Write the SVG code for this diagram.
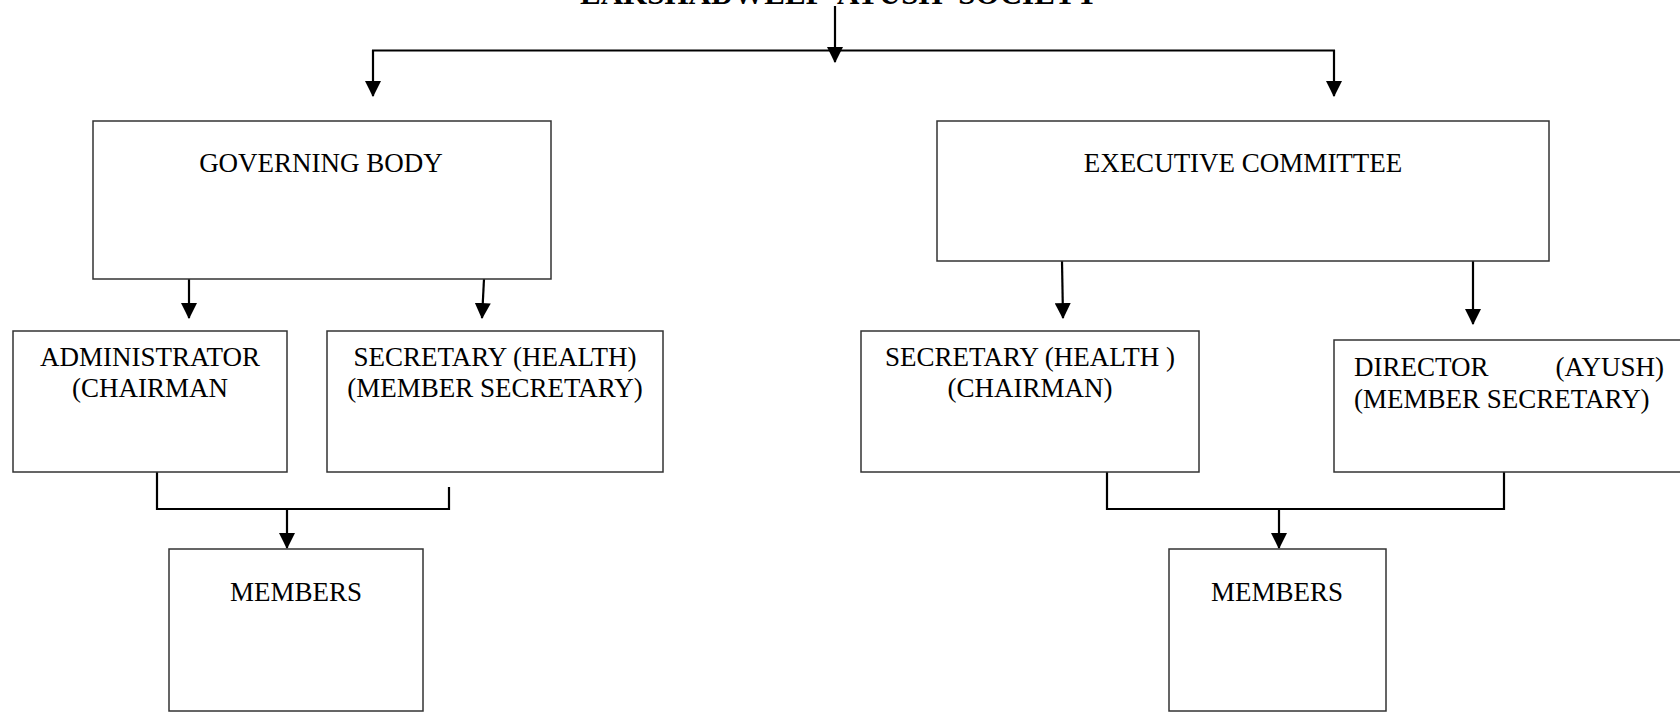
<svg xmlns="http://www.w3.org/2000/svg" width="1680" height="714" viewBox="0 0 1680 714">
<defs>
<style>
.box{fill:#fff;stroke:#333;stroke-width:1.5}
.t{font-family:"Liberation Serif","Times New Roman",serif;font-size:27px;fill:#000;text-anchor:middle}
.title{font-family:"Liberation Serif","Times New Roman",serif;font-size:31px;font-weight:bold;fill:#000}
.c{fill:none;stroke:#000;stroke-width:2.2}
</style>
<marker id="ah" markerUnits="userSpaceOnUse" markerWidth="16" markerHeight="16" viewBox="0 0 15 15" refX="14" refY="7.5" orient="auto">
<path d="M0,0 L15,7.5 L0,15 z" fill="#000"/>
</marker>
</defs>
<rect width="1680" height="714" fill="#fff"/>
<text class="title" x="580" y="4" word-spacing="8">LAKSHADWEEP AYUSH SOCIETY</text>
<g id="connectors">
<line class="c" x1="835" y1="6" x2="835" y2="62" marker-end="url(#ah)"/>
<line class="c" x1="372" y1="50.5" x2="1335" y2="50.5"/>
<line class="c" x1="373" y1="50" x2="373" y2="96" marker-end="url(#ah)"/>
<line class="c" x1="1334" y1="50" x2="1334" y2="96" marker-end="url(#ah)"/>
<line class="c" x1="189" y1="279" x2="189" y2="318" marker-end="url(#ah)"/>
<line class="c" x1="484" y1="279" x2="482" y2="318" marker-end="url(#ah)"/>
<line class="c" x1="1062" y1="261" x2="1063" y2="318" marker-end="url(#ah)"/>
<line class="c" x1="1473" y1="261" x2="1473" y2="324" marker-end="url(#ah)"/>
<path class="c" d="M157,472 V509 H449 V487"/>
<line class="c" x1="287" y1="509" x2="287" y2="548" marker-end="url(#ah)"/>
<path class="c" d="M1107,472 V509 H1504 V472"/>
<line class="c" x1="1279" y1="509" x2="1279" y2="548" marker-end="url(#ah)"/>
</g>
<g id="governing-body">
<rect class="box" x="93" y="121" width="458" height="158"/>
<text class="t" x="321" y="172">GOVERNING BODY</text>
</g>
<g id="executive-committee">
<rect class="box" x="937" y="121" width="612" height="140"/>
<text class="t" x="1243" y="172">EXECUTIVE COMMITTEE</text>
</g>
<g id="administrator">
<rect class="box" x="13" y="331" width="274" height="141"/>
<text class="t" x="150" y="366">ADMINISTRATOR</text>
<text class="t" x="150" y="397">(CHAIRMAN</text>
</g>
<g id="secretary-gb">
<rect class="box" x="327" y="331" width="336" height="141"/>
<text class="t" x="495" y="366">SECRETARY (HEALTH)</text>
<text class="t" x="495" y="397">(MEMBER SECRETARY)</text>
</g>
<g id="secretary-ec">
<rect class="box" x="861" y="331" width="338" height="141"/>
<text class="t" x="1030" y="366">SECRETARY (HEALTH )</text>
<text class="t" x="1030" y="397">(CHAIRMAN)</text>
</g>
<g id="director">
<rect class="box" x="1334" y="340" width="360" height="132"/>
<text class="t" x="1354" y="376" style="text-anchor:start">DIRECTOR</text>
<text class="t" x="1664" y="376" style="text-anchor:end">(AYUSH)</text>
<text class="t" x="1354" y="408" style="text-anchor:start">(MEMBER SECRETARY)</text>
</g>
<g id="members-gb">
<rect class="box" x="169" y="549" width="254" height="162"/>
<text class="t" x="296" y="601">MEMBERS</text>
</g>
<g id="members-ec">
<rect class="box" x="1169" y="549" width="217" height="162"/>
<text class="t" x="1277" y="601">MEMBERS</text>
</g>
</svg>
